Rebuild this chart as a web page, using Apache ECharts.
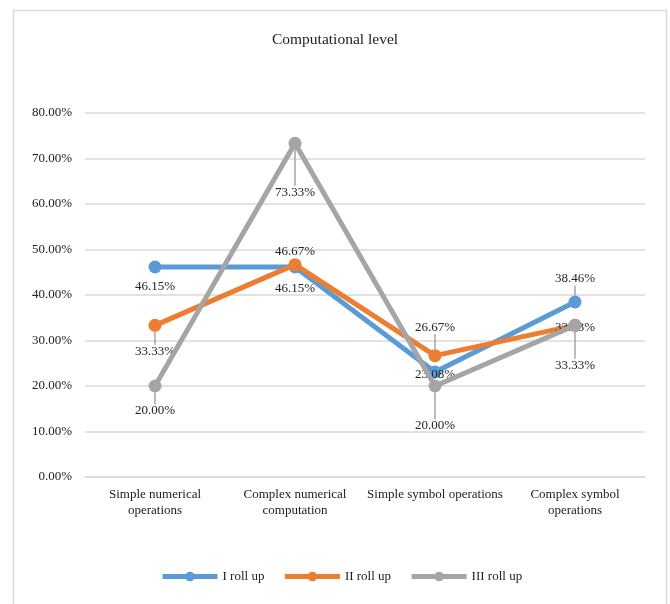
<!DOCTYPE html>
<html>
<head>
<meta charset="utf-8">
<script src="https://cdn.jsdelivr.net/npm/echarts@6/dist/echarts.min.js"></script>
<style>
  html, body { margin: 0; padding: 0; background: #fff; }
  #main { width: 670px; height: 604px; }
</style>
</head>
<body>
<div id="main"></div>
<script>
// data
const categories = ['Simple numerical\noperations', 'Complex numerical\ncomputation', 'Simple symbol operations', 'Complex symbol\noperations'];
const rollI = [46.15, 46.15, 23.08, 38.46];
const rollII = [33.33, 46.67, 26.67, 33.33];
const rollIII = [20.00, 73.33, 20.00, 33.33];
const seriesNames = ['I roll up', 'II roll up', 'III roll up'];
const yTicks = [0, 10, 20, 30, 40, 50, 60, 70, 80];

window.addEventListener('load', function () {
    let chart = echarts.init(document.getElementById('main'));
    const font = '"Liberation Serif", "Times New Roman", serif';
    const colors = ['#5B9BD5', '#ED7D31', '#A5A5A5'];
    const textColor = '#222';

    // label placement: vertical shift from the point, and whether a leader line is drawn
    const shifts = [[20, 22, 3, -23], [26, -13, -28, 2], [25, 49, 40, 40]];
    const leaders = [[false, false, false, true], [true, false, true, false], [true, true, true, true]];

    function makeSeries(idx, values) {
        return {
            name: seriesNames[idx],
            type: 'line',
            data: values.map(function (v, i) {
                return { value: v, labelLine: { show: leaders[idx][i] } };
            }),
            symbol: 'circle',
            symbolSize: 13,
            lineStyle: { width: 5, color: colors[idx] },
            itemStyle: { color: colors[idx] },
            label: {
                show: true,
                position: 'inside',
                fontFamily: font,
                fontSize: 13,
                color: textColor,
                formatter: function (p) { return p.value.toFixed(2) + '%'; }
            },
            labelLine: {
                show: true,
                lineStyle: { color: '#A5A5A5', width: 1.5 }
            },
            labelLayout: function (p) {
                return { dy: shifts[idx][p.dataIndex] };
            },
            z: 2 + idx
        };
    }

    let option = {
        animation: false,
        color: colors,
        title: {
            text: 'Computational level',
            left: 'center',
            top: 27,
            textStyle: { fontFamily: font, fontSize: 15.5, fontWeight: 'normal', color: textColor }
        },
        legend: {
            data: seriesNames,
            bottom: 16,
            left: 155,
            itemWidth: 55,
            itemHeight: 12,
            itemGap: 18,
            lineStyle: { width: 5 },
            textStyle: { fontFamily: font, fontSize: 13, color: textColor }
        },
        graphic: [{
            type: 'rect',
            left: 11,
            top: 8,
            shape: { width: 653, height: 600 },
            style: { fill: 'none', stroke: '#D9D9D9', lineWidth: 1.5 },
            silent: true
        }],
        grid: { left: 85, right: 25, top: 113, bottom: 127 },
        xAxis: {
            type: 'category',
            data: categories,
            axisLine: { lineStyle: { color: '#D9D9D9', width: 1.5 } },
            axisTick: { show: false },
            axisLabel: {
                fontFamily: font,
                fontSize: 13,
                color: textColor,
                margin: 10,
                lineHeight: 16,
                interval: 0
            }
        },
        yAxis: {
            type: 'value',
            min: yTicks[0],
            max: yTicks[yTicks.length - 1],
            interval: 10,
            axisLine: { show: false },
            axisTick: { show: false },
            splitLine: { lineStyle: { color: '#D9D9D9', width: 1.5 } },
            axisLabel: {
                fontFamily: font,
                fontSize: 13,
                color: textColor,
                margin: 13,
                formatter: function (v) { return v.toFixed(2) + '%'; }
            }
        },
        series: [
            makeSeries(0, rollI),
            makeSeries(1, rollII),
            makeSeries(2, rollIII)
        ]
    };
    chart.setOption(option);
}, false);
</script>
</body>
</html>
